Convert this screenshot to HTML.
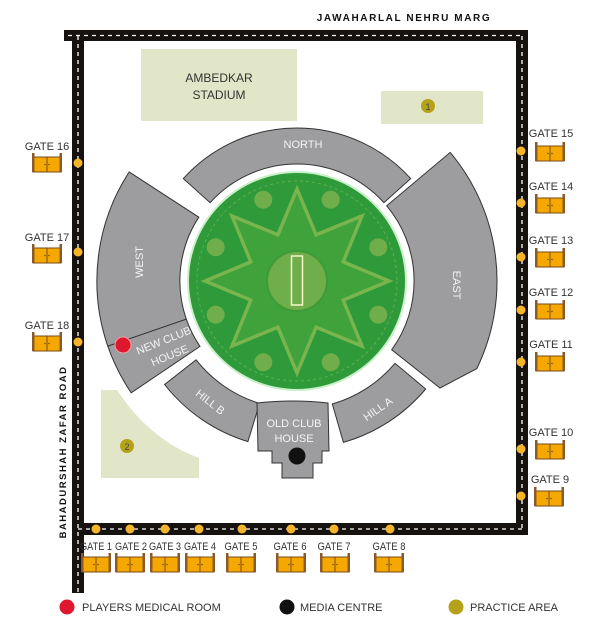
<!DOCTYPE html>
<html><head><meta charset="utf-8"><style>
html,body{margin:0;padding:0;background:#fff;width:608px;height:628px;overflow:hidden}
svg{display:block}
text{font-family:"Liberation Sans",sans-serif}
</style></head><body>
<svg width="608" height="628" viewBox="0 0 608 628" xmlns="http://www.w3.org/2000/svg">
<defs>
<g id="gate">
<rect x="1" y="4" width="28" height="15" fill="#f5a800" stroke="#7a4a1a" stroke-width="1"/>
<rect x="0" y="0" width="2.5" height="19" fill="#8a5a2a"/>
<rect x="27.5" y="0" width="2.5" height="19" fill="#8a5a2a"/>
<line x1="15" y1="4" x2="15" y2="19" stroke="#7a4a1a" stroke-width="1"/>
<circle cx="13" cy="11.5" r="0.8" fill="#7a4a1a"/><circle cx="17" cy="11.5" r="0.8" fill="#7a4a1a"/>
</g>
</defs>
<g fill="#151210">
<rect x="64" y="30" width="464" height="11"/>
<rect x="72" y="30" width="12" height="563"/>
<rect x="516" y="30" width="12" height="505"/>
<rect x="72" y="523" width="456" height="12"/>
</g>
<g stroke="#fff" stroke-width="1.3" stroke-dasharray="4,4" fill="none">
<line x1="68" y1="35.5" x2="522" y2="35.5"/>
<line x1="78" y1="36" x2="78" y2="592"/>
<line x1="522" y1="36" x2="522" y2="529"/>
<line x1="78" y1="529" x2="522" y2="529"/>
</g>
<g fill="#f5b52a">
<circle cx="78" cy="163" r="4.5"/><circle cx="78" cy="252" r="4.5"/><circle cx="78" cy="342" r="4.5"/>
<circle cx="521" cy="151" r="4.5"/><circle cx="521" cy="203" r="4.5"/><circle cx="521" cy="257" r="4.5"/><circle cx="521" cy="310" r="4.5"/><circle cx="521" cy="362" r="4.5"/><circle cx="521" cy="449" r="4.5"/><circle cx="521" cy="496" r="4.5"/>
<circle cx="96" cy="529" r="4.5"/><circle cx="130" cy="529" r="4.5"/><circle cx="165" cy="529" r="4.5"/><circle cx="199" cy="529" r="4.5"/><circle cx="242" cy="529" r="4.5"/><circle cx="291" cy="529" r="4.5"/><circle cx="334" cy="529" r="4.5"/><circle cx="390" cy="529" r="4.5"/>
</g>
<text x="404" y="21" font-size="10" font-weight="bold" letter-spacing="1.6" text-anchor="middle" fill="#111">JAWAHARLAL NEHRU MARG</text>
<text transform="translate(66,452) rotate(-90)" font-size="9.5" font-weight="bold" letter-spacing="1.5" text-anchor="middle" fill="#111">BAHADURSHAH ZAFAR ROAD</text>
<rect x="141" y="49" width="156" height="72" fill="#e0e6c7"/>
<text x="219" y="82" font-size="12" text-anchor="middle" fill="#333">AMBEDKAR</text>
<text x="219" y="99" font-size="12" text-anchor="middle" fill="#333">STADIUM</text>
<rect x="381" y="91" width="102" height="33" fill="#e0e6c7"/>
<circle cx="428" cy="106" r="7" fill="#b5a21a"/><text x="428" y="110" font-size="9" text-anchor="middle" fill="#444">1</text>
<path d="M101,390 L117,390 Q150,440 199,458 L199,478 L101,478 Z" fill="#e0e6c7"/>
<circle cx="127" cy="446" r="7" fill="#b5a21a"/><text x="127" y="450" font-size="9" text-anchor="middle" fill="#444">2</text>
<g fill="#9d9d9f" stroke="#333" stroke-width="1">
<path d="M183.3,178.6 A153,153 0 0 1 410.7,178.6 L383.9,202.7 A117,117 0 0 0 210.1,202.7 Z"/>
<path d="M129.2,172 A200,200 0 0 0 107.8,346.2 L186.3,319.2 A117,117 0 0 1 198.8,217.2 Z"/>
<path d="M107.8,346.2 A200,200 0 0 0 131.2,392.8 L200,346.4 A117,117 0 0 1 186.3,319.2 Z"/>
<path d="M450.2,152.4 A200,200 0 0 1 476.8,368.6 L440,388 L391.7,349.8 A117,117 0 0 0 386.7,205.8 Z"/>
<path d="M164.6,384.5 A168,168 0 0 0 247.9,441.6 L259.6,403.4 A128,128 0 0 1 196.1,359.8 Z"/>
<path d="M343.4,442.4 A168,168 0 0 0 425.7,389 L395,363.3 A128,128 0 0 1 332.3,404 Z"/>
<path d="M257,403 Q293,399 328,403 L329,451 L322,451 L322,463 L313,463 L313,478 L282,478 L282,463 L272,463 L272,451 L258,451 Z"/>
</g>
<circle cx="297" cy="281" r="110" fill="#c9f0c9"/>
<circle cx="297" cy="281" r="108" fill="#2e9a3a"/>
<circle cx="297" cy="281" r="100" fill="none" stroke="#5fb04a" stroke-width="1" stroke-dasharray="3,3"/>
<polygon points="297,189 316.1,234.8 362,216 343.2,261.9 389,281 343.2,300.1 362,346 316.1,327.2 297,373 277.9,327.2 232,346 250.8,300.1 205,281 250.8,261.9 232,216 277.9,234.8" fill="#3fa23a" stroke="#79b44e" stroke-width="3.5"/>
<g fill="#6fae4a">
<circle cx="330.7" cy="199.7" r="9"/><circle cx="378.3" cy="247.3" r="9"/><circle cx="378.3" cy="314.7" r="9"/><circle cx="330.7" cy="362.3" r="9"/><circle cx="263.3" cy="362.3" r="9"/><circle cx="215.7" cy="314.7" r="9"/><circle cx="215.7" cy="247.3" r="9"/><circle cx="263.3" cy="199.7" r="9"/>
</g>
<circle cx="297" cy="281" r="30" fill="#6fae4a" stroke="#3f9a38" stroke-width="2"/>
<rect x="291.5" y="256" width="11" height="49" fill="none" stroke="#f4f6c8" stroke-width="1.5"/>
<g fill="#f4f4f4" font-size="11" text-anchor="middle">
<text x="303" y="148">NORTH</text>
<text transform="translate(143,262) rotate(-90)">WEST</text>
<text transform="translate(453,285) rotate(90)">EAST</text>
<text transform="translate(165,344) rotate(-22)">NEW CLUB</text>
<text transform="translate(171,359) rotate(-22)">HOUSE</text>
<text transform="translate(208,405) rotate(38)">HILL B</text>
<text transform="translate(380,412) rotate(-35)">HILL A</text>
<text x="294" y="427">OLD CLUB</text>
<text x="294" y="442">HOUSE</text>
</g>
<circle cx="297" cy="456" r="8.5" fill="#111"/>
<circle cx="123" cy="345" r="8" fill="#e0182f" stroke="#f0a0a0" stroke-width="1"/>
<g font-size="11" fill="#333" text-anchor="middle">
<text x="47" y="150">GATE 16</text><use href="#gate" x="32" y="153"/>
<text x="47" y="241">GATE 17</text><use href="#gate" x="32" y="244"/>
<text x="47" y="329">GATE 18</text><use href="#gate" x="32" y="332"/>
<text x="551" y="137">GATE 15</text><use href="#gate" x="535" y="142"/>
<text x="551" y="190">GATE 14</text><use href="#gate" x="535" y="194"/>
<text x="551" y="244">GATE 13</text><use href="#gate" x="535" y="248"/>
<text x="551" y="296">GATE 12</text><use href="#gate" x="535" y="300"/>
<text x="551" y="348">GATE 11</text><use href="#gate" x="535" y="352"/>
<text x="551" y="436">GATE 10</text><use href="#gate" x="535" y="440"/>
<text x="550" y="483">GATE 9</text><use href="#gate" x="534" y="487"/>
</g>
<g font-size="11" fill="#333" text-anchor="middle" lengthAdjust="spacingAndGlyphs">
<text x="96" y="550" textLength="32" lengthAdjust="spacingAndGlyphs">GATE 1</text><use href="#gate" x="81" y="553"/>
<text x="131" y="550" textLength="32" lengthAdjust="spacingAndGlyphs">GATE 2</text><use href="#gate" x="115" y="553"/>
<text x="165" y="550" textLength="32" lengthAdjust="spacingAndGlyphs">GATE 3</text><use href="#gate" x="150" y="553"/>
<text x="200" y="550" textLength="32" lengthAdjust="spacingAndGlyphs">GATE 4</text><use href="#gate" x="185" y="553"/>
<text x="241" y="550" textLength="33" lengthAdjust="spacingAndGlyphs">GATE 5</text><use href="#gate" x="226" y="553"/>
<text x="290" y="550" textLength="33" lengthAdjust="spacingAndGlyphs">GATE 6</text><use href="#gate" x="276" y="553"/>
<text x="334" y="550" textLength="33" lengthAdjust="spacingAndGlyphs">GATE 7</text><use href="#gate" x="320" y="553"/>
<text x="389" y="550" textLength="33" lengthAdjust="spacingAndGlyphs">GATE 8</text><use href="#gate" x="374" y="553"/>
</g>
<circle cx="67" cy="607" r="7.5" fill="#e0182f"/>
<text x="82" y="611" font-size="11" fill="#333">PLAYERS MEDICAL ROOM</text>
<circle cx="287" cy="607" r="7.5" fill="#111"/>
<text x="300" y="611" font-size="11" fill="#333">MEDIA CENTRE</text>
<circle cx="456" cy="607" r="7.5" fill="#b5a21a"/>
<text x="470" y="611" font-size="11" fill="#333">PRACTICE AREA</text>
</svg>
</body></html>
